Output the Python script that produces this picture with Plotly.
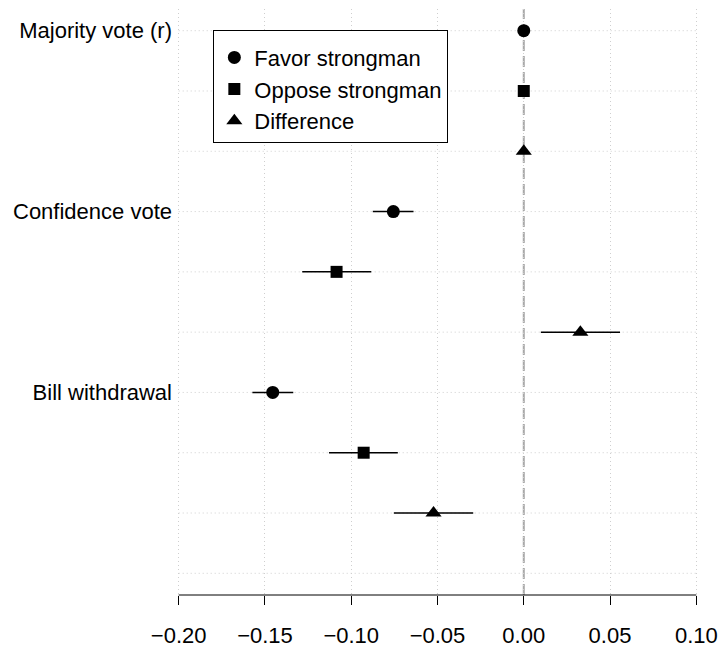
import plotly.graph_objects as go

# ---- data ----
groups = ["Majority vote (r)", "Confidence vote", "Bill withdrawal"]
series_names = ["Favor strongman", "Oppose strongman", "Difference"]

favor_est = [0.0, -0.0756, -0.1455]
favor_lo = [0.0, -0.0875, -0.1573]
favor_hi = [0.0, -0.0639, -0.1336]

oppose_est = [0.0, -0.1085, -0.0928]
oppose_lo = [0.0, -0.1284, -0.1129]
oppose_hi = [0.0, -0.0884, -0.0730]

diff_est = [0.0, 0.0328, -0.0523]
diff_lo = [0.0, 0.0099, -0.0753]
diff_hi = [0.0, 0.0558, -0.0293]

x_ticks = [-0.20, -0.15, -0.10, -0.05, 0.00, 0.05, 0.10]
n_rows = 10  # 3 groups x 3 series + one empty row

FONT = "Liberation Sans, Arial, Helvetica, sans-serif"
FS = 22

fig = go.Figure()

series = [
    (series_names[0], favor_est, favor_lo, favor_hi, "circle", 13, 0),
    (series_names[1], oppose_est, oppose_lo, oppose_hi, "square", 12, 1),
    (series_names[2], diff_est, diff_lo, diff_hi, "triangle-up", 14, 2),
]

for name, est, lo, hi, sym, size, offset in series:
    rows = [g * 3 + offset for g in range(len(groups))]
    fig.add_trace(go.Scatter(
        x=est, y=rows, mode="markers", name=name,
        marker=dict(symbol=sym, size=size, color="black", line=dict(width=0)),
        error_x=dict(type="data", symmetric=False,
                     array=[h - e for h, e in zip(hi, est)],
                     arrayminus=[e - l for e, l in zip(est, lo)],
                     color="black", thickness=1.5, width=0),
    ))

shapes = []
# horizontal dotted grid lines spanning the tick range
for r in range(n_rows):
    shapes.append(dict(type="line", xref="x", yref="y", x0=x_ticks[0], x1=x_ticks[-1],
                       y0=r, y1=r, layer="below",
                       line=dict(color="#cfcfcf", width=1, dash="1px,3px")))
# dashed zero line
shapes.append(dict(type="line", xref="x", yref="paper", x0=0, x1=0, y0=0, y1=1,
                   layer="below", line=dict(color="#a8a8a8", width=2, dash="11px,5px")))
# bottom axis line spanning the ticks
shapes.append(dict(type="line", xref="x", yref="paper", x0=x_ticks[0], x1=x_ticks[-1],
                   y0=0, y1=0, line=dict(color="black", width=1)))

pad_x = 0.04 * (x_ticks[-1] - x_ticks[0])
pad_y = 0.04 * (n_rows - 1)

fig.update_layout(
    width=721, height=652,
    margin=dict(l=158, r=4, t=9, b=57),
    paper_bgcolor="white", plot_bgcolor="white",
    font=dict(family=FONT, size=FS, color="black"),
    shapes=shapes,
    showlegend=True,
    legend=dict(x=0.099, y=0.9634, xanchor="left", yanchor="top",
                bordercolor="black", borderwidth=1, bgcolor="white",
                font=dict(family=FONT, size=FS, color="black"),
                title=dict(text=" ", font=dict(size=4))),
    xaxis=dict(range=[x_ticks[0] - pad_x, x_ticks[-1] + pad_x],
               tickvals=x_ticks, ticktext=[f"{v:.2f}".replace("-", "\u2212") for v in x_ticks],
               ticks="outside", ticklen=9, tickwidth=1, tickcolor="black",
               showline=False, zeroline=False,
               showgrid=True, gridcolor="#cfcfcf", gridwidth=1, griddash="1px,3px",
               ticklabelstandoff=12,
               tickfont=dict(family=FONT, size=FS, color="black")),
    yaxis=dict(range=[n_rows - 1 + pad_y, -pad_y],
               tickvals=[0, 3, 6], ticktext=groups,
               ticks="", showline=False, zeroline=False, showgrid=False,
               ticklabelstandoff=-15,
               tickfont=dict(family=FONT, size=FS, color="black")),
)

fig.write_html("out.html")
